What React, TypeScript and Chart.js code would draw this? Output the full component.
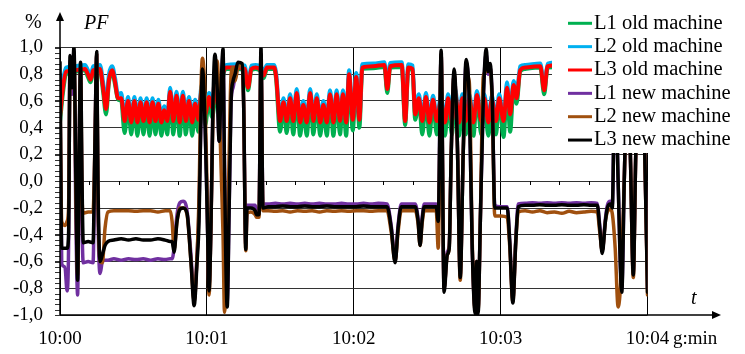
import React, { useEffect, useRef } from 'react';
import { Chart, registerables } from 'chart.js';

Chart.register(...registerables);

// ---------- data ----------
const xTickLabels = ['10:00', '10:01', '10:02', '10:03', '10:04'];
const seriesNames = ['L1 old machine', 'L2 old machine', 'L3 old machine', 'L1 new machine', 'L2 new machine', 'L3 new machine'];
const seriesColors = ['#00B050', '#00B0F0', '#FF0000', '#7030A0', '#A0500F', '#000000'];

// seconds after 10:00
const oldT = [
  0, 1.2, 2.5, 6.0, 10.2, 11.4, 12.5, 13.6, 16.3, 17.6,
  18.8, 20.0, 21.3, 22.5, 23.7, 25.0, 26.4, 27.8, 29.1, 30.4,
  31.6, 32.9, 34.1, 35.4, 36.6, 37.8, 39.0, 40.2, 41.4, 42.6,
  43.8, 45.0, 46.3, 47.6, 48.9, 50.2, 51.4, 52.7, 54.0, 55.2,
  56.5, 57.9, 59.3, 60.9, 62.1, 64.0, 65.4, 66.6, 68.1, 72.0,
  75.5, 76.8, 78.2, 80.0, 82.0, 83.2, 84.5, 87.5, 88.3, 89.9,
  91.3, 92.6, 94.0, 95.3, 96.7, 98.1, 99.4, 100.8, 102.2, 103.5,
  104.9, 106.3, 107.6, 109.0, 110.3, 111.7, 113.0, 114.4, 115.6, 116.9,
  118.1, 119.6, 121.0, 122.3, 123.5, 128.0, 132.5, 133.7, 134.9, 139.6,
  141.0, 142.3, 144.0, 145.1, 146.6, 148.0, 149.5, 150.9, 152.4, 153.9,
  155.6, 157.3, 158.5, 160.1, 161.4, 163.1, 164.3, 165.8, 167.2, 168.9,
  170.3, 172.1, 173.3, 175.0, 176.4, 178.1, 179.4, 181.2, 182.6, 183.9,
  185.3, 186.5, 188.0, 190.0, 196.2, 197.8, 199.2, 205.0, 215.0, 225.0,
  240.0,
];
const l1Old = [
  0.44, 0.66, 0.80, 0.82, 0.83, 0.78, 0.74, 0.82, 0.83, 0.67,
  0.50, 0.74, 0.82, 0.72, 0.61, 0.60, 0.36, 0.58, 0.35, 0.58,
  0.34, 0.57, 0.35, 0.57, 0.34, 0.57, 0.35, 0.56, 0.34, 0.51,
  0.35, 0.65, 0.35, 0.62, 0.34, 0.62, 0.35, 0.58, 0.34, 0.56,
  0.37, 0.67, 0.42, 0.61, 0.48, 0.67, 0.40, 0.78, 0.84, 0.84,
  0.83, 0.68, 0.83, 0.84, 0.82, 0.77, 0.84, 0.84, 0.76, 0.37,
  0.57, 0.36, 0.60, 0.35, 0.64, 0.34, 0.55, 0.34, 0.64, 0.35,
  0.60, 0.34, 0.55, 0.34, 0.63, 0.34, 0.63, 0.35, 0.63, 0.34,
  0.78, 0.38, 0.76, 0.40, 0.84, 0.845, 0.855, 0.66, 0.85, 0.855,
  0.42, 0.84, 0.83, 0.46, 0.60, 0.35, 0.61, 0.34, 0.59, 0.35,
  0.58, 0.34, 0.60, 0.35, 0.64, 0.34, 0.60, 0.35, 0.60, 0.34,
  0.625, 0.35, 0.60, 0.34, 0.59, 0.35, 0.60, 0.33, 0.68, 0.37,
  0.70, 0.58, 0.82, 0.84, 0.85, 0.65, 0.85, 0.855, 0.85, 0.85,
  0.85,
];
const l2Old = [
  0.54, 0.75, 0.85, 0.86, 0.87, 0.83, 0.79, 0.86, 0.87, 0.74,
  0.58, 0.80, 0.86, 0.77, 0.65, 0.66, 0.47, 0.63, 0.46, 0.63,
  0.46, 0.62, 0.47, 0.62, 0.46, 0.62, 0.47, 0.61, 0.46, 0.56,
  0.47, 0.70, 0.47, 0.67, 0.46, 0.67, 0.47, 0.63, 0.46, 0.61,
  0.48, 0.72, 0.52, 0.66, 0.57, 0.72, 0.52, 0.83, 0.87, 0.875,
  0.865, 0.73, 0.865, 0.87, 0.86, 0.82, 0.87, 0.87, 0.81, 0.47,
  0.62, 0.47, 0.65, 0.47, 0.69, 0.46, 0.60, 0.46, 0.69, 0.47,
  0.65, 0.46, 0.60, 0.46, 0.68, 0.46, 0.68, 0.47, 0.68, 0.46,
  0.83, 0.48, 0.81, 0.48, 0.875, 0.88, 0.89, 0.72, 0.885, 0.89,
  0.48, 0.875, 0.865, 0.53, 0.65, 0.47, 0.66, 0.46, 0.64, 0.47,
  0.63, 0.46, 0.65, 0.47, 0.69, 0.46, 0.65, 0.47, 0.65, 0.46,
  0.675, 0.47, 0.65, 0.46, 0.64, 0.47, 0.65, 0.47, 0.74, 0.52,
  0.75, 0.65, 0.86, 0.87, 0.88, 0.71, 0.88, 0.89, 0.88, 0.88,
  0.88,
];
const l3Old = [
  0.48, 0.70, 0.82, 0.83, 0.84, 0.80, 0.76, 0.83, 0.84, 0.70,
  0.54, 0.76, 0.83, 0.74, 0.62, 0.62, 0.45, 0.60, 0.44, 0.60,
  0.44, 0.59, 0.45, 0.59, 0.44, 0.59, 0.45, 0.58, 0.44, 0.53,
  0.45, 0.67, 0.45, 0.64, 0.44, 0.64, 0.45, 0.60, 0.44, 0.58,
  0.46, 0.69, 0.50, 0.63, 0.55, 0.69, 0.50, 0.80, 0.85, 0.85,
  0.84, 0.70, 0.84, 0.85, 0.83, 0.79, 0.85, 0.85, 0.78, 0.45,
  0.59, 0.45, 0.62, 0.45, 0.66, 0.44, 0.57, 0.44, 0.66, 0.45,
  0.62, 0.44, 0.57, 0.44, 0.65, 0.44, 0.65, 0.45, 0.65, 0.44,
  0.80, 0.46, 0.78, 0.46, 0.85, 0.86, 0.87, 0.69, 0.86, 0.87,
  0.45, 0.85, 0.84, 0.50, 0.62, 0.45, 0.63, 0.44, 0.61, 0.45,
  0.60, 0.44, 0.62, 0.45, 0.66, 0.44, 0.62, 0.45, 0.62, 0.44,
  0.645, 0.45, 0.62, 0.44, 0.61, 0.45, 0.62, 0.45, 0.70, 0.50,
  0.72, 0.62, 0.83, 0.85, 0.86, 0.68, 0.86, 0.87, 0.86, 0.86,
  0.86,
];

const newT = [
  0, 0.7, 2.0, 2.9, 3.5, 4.1, 4.9, 5.7, 6.5, 7.2,
  7.8, 8.4, 9.0, 9.5, 11.5, 13.5, 14.3, 15.0, 15.5, 16.4,
  17.3, 18.4, 19.6, 22.0, 25.0, 28.0, 31.0, 34.0, 37.0, 40.0,
  43.0, 45.0, 45.8, 46.6, 47.8, 49.0, 50.3, 51.9, 53.5, 54.8,
  56.0, 56.8, 57.6, 58.2, 59.3, 60.1, 60.9, 61.7, 62.5, 63.3,
  64.2, 65.0, 65.8, 66.6, 67.2, 68.3, 69.1, 69.9, 70.7, 71.5,
  72.7, 74.4, 75.0, 75.9, 76.4, 78.0, 79.7, 80.3, 81.3, 82.1,
  82.9, 85, 88, 91, 94, 97, 100, 103, 106, 109,
  112, 115, 118, 121, 124, 127, 130, 133.6, 135.3, 136.9,
  138.1, 139.4, 142, 145.1, 146.3, 147.1, 147.9, 148.8, 151, 153.7,
  154.5, 155.7, 156.9, 158.2, 159.0, 159.8, 161.0, 162.3, 163.5, 164.7,
  165.9, 167.2, 168.4, 169.6, 170.2, 170.8, 171.7, 172.9, 174.1, 174.9,
  175.7, 176.6, 177.6, 180, 182.7, 183.7, 185.0, 186.2, 187.2, 190,
  193, 196, 199, 202, 205, 208, 211, 214, 217, 219.5,
  220.5, 221.5, 222.8, 223.6, 224.8, 225.6, 226.8, 228.0, 229.5, 230.5,
  231.9, 233.0, 234.2, 235.2, 236.4, 237.7, 238.9, 240,
];
const l1New = [
  0.80, -0.62, -0.64, -0.82, -0.50, 0.90, 0.65, 0.97, -0.30, -0.85,
  0.20, 0.85, -0.30, -0.61, -0.60, -0.61, 0.30, 0.95, -0.20, -0.69,
  -0.60, -0.59, -0.59, -0.58, -0.59, -0.58, -0.585, -0.58, -0.59, -0.58,
  -0.585, -0.58, -0.58, -0.50, -0.25, -0.16, -0.15, -0.22, -0.55, -0.88,
  -0.55, -0.20, 0.50, 0.80, 0.40, -0.20, -0.78, -0.30, 0.60, 0.74,
  0.70, 0.30, 0.60, 0.95, 0.10, -0.90, -0.20, 0.60, 0.70, 0.78,
  0.86, 0.86, 0.60, -0.48, -0.18, -0.18, -0.18, -0.22, -0.22, 0.95,
  -0.17, -0.17, -0.165, -0.17, -0.165, -0.17, -0.165, -0.17, -0.165, -0.17,
  -0.17, -0.165, -0.17, -0.17, -0.165, -0.17, -0.165, -0.17, -0.33, -0.58,
  -0.33, -0.17, -0.17, -0.17, -0.28, -0.45, -0.28, -0.17, -0.17, -0.17,
  -0.28, 0.95, -0.80, -0.53, -0.48, 0.20, 0.80, 0.30, -0.70, 0.20,
  0.88, 0.60, -0.50, -0.95, -0.60, -0.95, -0.30, 0.60, 0.95, 0.80,
  0.85, 0.60, -0.18, -0.19, -0.19, -0.43, -0.88, -0.43, -0.17, -0.165,
  -0.16, -0.165, -0.16, -0.165, -0.16, -0.165, -0.16, -0.165, -0.16, -0.165,
  -0.33, -0.52, -0.28, -0.18, -0.15, -0.18, 0.88, 0.00, -0.80, 0.00,
  0.88, 0.20, -0.68, 0.20, 0.88, 0.88, 0.20, -0.80,
];
const l2New = [
  0.70, -0.30, -0.33, -0.30, -0.20, 0.80, 0.70, 0.96, -0.10, -0.70,
  0.10, 0.85, -0.10, -0.24, -0.23, -0.23, 0.30, 0.95, -0.10, -0.60,
  -0.61, -0.35, -0.23, -0.22, -0.22, -0.22, -0.225, -0.22, -0.22, -0.23,
  -0.22, -0.22, -0.30, -0.51, -0.30, -0.20, -0.20, -0.25, -0.60, -0.90,
  -0.55, -0.10, 0.70, 0.92, 0.60, -0.10, -0.85, -0.30, 0.50, 0.80,
  0.90, 0.60, 0.10, -0.40, -0.98, -0.50, 0.20, 0.80, 0.85, 0.75,
  0.85, 0.87, 0.60, -0.52, -0.24, -0.23, -0.25, -0.27, -0.27, 0.95,
  -0.22, -0.22, -0.225, -0.22, -0.23, -0.22, -0.225, -0.22, -0.23, -0.22,
  -0.225, -0.22, -0.225, -0.22, -0.22, -0.225, -0.22, -0.22, -0.38, -0.60,
  -0.38, -0.22, -0.22, -0.22, -0.32, -0.48, -0.32, -0.22, -0.22, -0.22,
  -0.50, 0.95, -0.80, -0.55, -0.50, 0.20, 0.80, 0.30, -0.74, 0.20,
  0.80, 0.74, -0.45, -0.97, -0.60, -0.97, -0.30, 0.78, 0.82, 0.86,
  0.85, 0.55, -0.26, -0.26, -0.27, -0.48, -0.90, -0.45, -0.23, -0.22,
  -0.23, -0.22, -0.235, -0.23, -0.24, -0.225, -0.235, -0.23, -0.225, -0.23,
  -0.38, -0.52, -0.30, -0.23, -0.21, -0.24, -0.50, -0.94, -0.60, 0.00,
  0.90, 0.20, -0.72, 0.20, 0.90, 0.90, 0.20, -0.85,
];
const l3New = [
  0.89, -0.50, -0.50, -0.50, -0.40, 0.94, 0.70, 1.00, 0.00, -0.74,
  0.20, 0.89, 0.00, -0.46, -0.45, -0.46, 0.30, 0.97, 0.00, -0.60,
  -0.55, -0.48, -0.45, -0.44, -0.43, -0.44, -0.43, -0.44, -0.44, -0.43,
  -0.44, -0.45, -0.45, -0.53, -0.30, -0.21, -0.20, -0.24, -0.60, -0.93,
  -0.60, -0.30, 0.50, 0.84, 0.40, -0.20, -0.82, -0.30, 0.60, 0.95,
  0.70, 0.30, 0.70, 0.99, 0.10, -0.94, -0.20, 0.60, 0.75, 0.80,
  0.89, 0.88, 0.60, -0.51, -0.20, -0.20, -0.22, -0.25, -0.25, 1.00,
  -0.20, -0.19, -0.19, -0.185, -0.19, -0.19, -0.185, -0.19, -0.19, -0.185,
  -0.19, -0.19, -0.19, -0.19, -0.185, -0.19, -0.19, -0.19, -0.35, -0.61,
  -0.35, -0.19, -0.19, -0.19, -0.30, -0.48, -0.30, -0.19, -0.19, -0.19,
  -0.30, 0.98, -0.83, -0.55, -0.50, 0.20, 0.84, 0.30, -0.72, 0.20,
  0.91, 0.60, -0.50, -0.99, -0.60, -0.99, -0.30, 0.60, 0.99, 0.82,
  0.88, 0.60, -0.20, -0.20, -0.20, -0.45, -0.91, -0.45, -0.19, -0.18,
  -0.18, -0.175, -0.18, -0.18, -0.175, -0.18, -0.18, -0.175, -0.18, -0.18,
  -0.35, -0.54, -0.30, -0.20, -0.17, -0.20, 0.90, 0.00, -0.83, 0.00,
  0.90, 0.20, -0.70, 0.20, 0.90, 0.90, 0.20, -0.83,
];

const SERIF = '"Liberation Serif", "Times New Roman", serif';

function toPoints(t: number[], v: number[]) {
  const n = Math.min(t.length, v.length);
  const out: { x: number; y: number }[] = [];
  for (let i = 0; i < n; i++) out.push({ x: t[i], y: v[i] });
  return out;
}

function fmtY(v: number) {
  if (Math.abs(v) < 1e-9) return '0,0';
  return v.toFixed(1).replace('.', ',');
}

const decor = {
  id: 'decor',
  afterDraw(chart: any) {
    const ctx = chart.ctx as CanvasRenderingContext2D;
    const xs = chart.scales.x;
    const ys = chart.scales.y;
    const { left: L, bottom: B } = chart.chartArea;
    ctx.save();

    // minor y ticks
    ctx.strokeStyle = '#333';
    ctx.lineWidth = 1;
    for (let k = 0; k <= 50; k++) {
      const y = Math.round(ys.getPixelForValue(-1 + k * 0.04)) + 0.5;
      ctx.beginPath();
      ctx.moveTo(L - 5, y);
      ctx.lineTo(L, y);
      ctx.stroke();
    }
    // minor x ticks on zero line
    const y0 = Math.round(ys.getPixelForValue(0));
    ctx.strokeStyle = '#000';
    for (let k = 1; k < 20; k++) {
      if (k % 5 === 0) continue;
      const x = Math.round(xs.getPixelForValue(k * 12)) + 0.5;
      ctx.beginPath();
      ctx.moveTo(x, y0);
      ctx.lineTo(x, y0 + 4);
      ctx.stroke();
    }

    // axes with arrows
    ctx.strokeStyle = '#000';
    ctx.fillStyle = '#000';
    ctx.lineWidth = 1.5;
    ctx.beginPath();
    ctx.moveTo(L, B);
    ctx.lineTo(L, 20);
    ctx.stroke();
    ctx.beginPath();
    ctx.moveTo(L - 4, 21);
    ctx.lineTo(L, 12);
    ctx.lineTo(L + 4, 21);
    ctx.closePath();
    ctx.fill();
    ctx.beginPath();
    ctx.moveTo(L, B);
    ctx.lineTo(713, B);
    ctx.stroke();
    ctx.beginPath();
    ctx.moveTo(712, B - 4);
    ctx.lineTo(721, B);
    ctx.lineTo(712, B + 4);
    ctx.closePath();
    ctx.fill();

    // axis texts
    ctx.textBaseline = 'middle';
    ctx.textAlign = 'left';
    ctx.font = `20px ${SERIF}`;
    ctx.fillText('%', 25, 23);
    ctx.font = `italic 20px ${SERIF}`;
    ctx.fillText('PF', 84, 24);
    ctx.fillText('t', 691, 299);
    ctx.font = `19px ${SERIF}`;
    ctx.fillText('g:min', 673, B + 13 + 11.4);

    // legend
    ctx.fillStyle = '#fff';
    ctx.fillRect(552, 0, 193, 153);
    ctx.font = `20.5px ${SERIF}`;
    for (let i = 0; i < seriesNames.length; i++) {
      const y = 23.3 + i * 23.35;
      ctx.strokeStyle = seriesColors[i];
      ctx.lineWidth = 3;
      ctx.beginPath();
      ctx.moveTo(568, y);
      ctx.lineTo(592, y);
      ctx.stroke();
      ctx.fillStyle = '#000';
      ctx.fillText(seriesNames[i], 594, y);
    }
    ctx.restore();
  },
};

export default function App() {
  const ref = useRef<HTMLCanvasElement>(null);
  useEffect(() => {
    const canvas = ref.current;
    if (!canvas) return;
    const sets = [
      { t: oldT, v: l1Old, order: 5, w: 4 },
      { t: oldT, v: l2Old, order: 4, w: 4 },
      { t: oldT, v: l3Old, order: 3, w: 4 },
      { t: newT, v: l1New, order: 2, w: 3.5 },
      { t: newT, v: l2New, order: 1, w: 3.5 },
      { t: newT, v: l3New, order: 0, w: 3.5 },
    ];
    const chart = new Chart(canvas, {
      type: 'line',
      data: {
        datasets: sets.map((s, i) => ({
          label: seriesNames[i],
          data: toPoints(s.t, s.v),
          borderColor: seriesColors[i],
          backgroundColor: seriesColors[i],
          borderWidth: s.w,
          order: s.order,
          pointRadius: 0,
          fill: false,
          cubicInterpolationMode: 'monotone',
          borderJoinStyle: 'round',
          borderCapStyle: 'round',
        })),
      },
      options: {
        responsive: false,
        animation: false,
        devicePixelRatio: 1,
        layout: { padding: { left: 0, top: 47.5, right: 97.5, bottom: 0 } },
        plugins: { legend: { display: false }, tooltip: { enabled: false } },
        scales: {
          x: {
            type: 'linear',
            min: 0,
            max: 240,
            afterFit: (s: any) => { s.height = 39; },
            ticks: {
              stepSize: 60,
              autoSkip: false,
              maxRotation: 0,
              padding: 13,
              color: '#000',
              font: { family: SERIF, size: 19 },
              callback: (v: any) => xTickLabels[Math.round(Number(v) / 60)] ?? '',
            },
            grid: { color: '#000', lineWidth: 1, drawTicks: false },
            border: { display: false },
          },
          y: {
            type: 'linear',
            min: -1,
            max: 1,
            afterFit: (s: any) => { s.width = 60; },
            ticks: {
              stepSize: 0.2,
              padding: 12,
              color: '#000',
              font: { family: SERIF, size: 19 },
              callback: (v: any) => fmtY(Number(v)),
            },
            grid: { color: '#333', lineWidth: 1, tickLength: 5 },
            border: { display: false },
          },
        },
      } as any,
      plugins: [decor],
    });
    return () => chart.destroy();
  }, []);
  return (
    <div style={{ position: 'absolute', left: 0, top: 0, width: 745, height: 354, background: '#fff' }}>
      <canvas ref={ref} width={745} height={354} style={{ display: 'block', width: 745, height: 354 }} />
    </div>
  );
}
